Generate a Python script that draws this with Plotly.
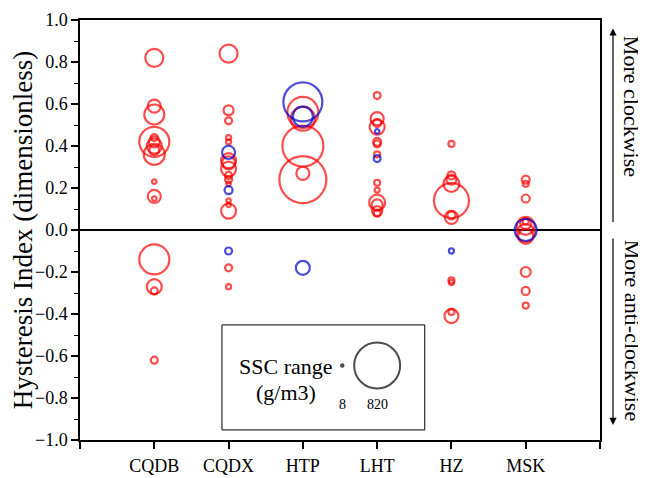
import numpy as np
import plotly.graph_objects as go

SITES = ["CQDB", "CQDX", "HTP", "LHT", "HZ", "MSK"]

# Red events
RED_SITE = (["CQDB"] * 16 + ["CQDX"] * 16 + ["HTP"] * 5 + ["LHT"] * 13 +
            ["HZ"] * 11 + ["MSK"] * 11)
RED_HI = [0.82, 0.59, 0.55, 0.42, 0.44, 0.42, 0.40, 0.38, 0.36, 0.23, 0.16, 0.15, -0.14, -0.27, -0.29, -0.62,
          0.84, 0.57, 0.52, 0.44, 0.42, 0.33, 0.32, 0.29, 0.26, 0.24, 0.22, 0.14, 0.12, 0.09, -0.18, -0.27,
          0.56, 0.53, 0.40, 0.24, 0.27,
          0.64, 0.53, 0.51, 0.49, 0.42, 0.41, 0.36, 0.225, 0.19, 0.13, 0.12, 0.09, 0.08,
          0.41, 0.26, 0.24, 0.22, 0.14, 0.07, 0.06, -0.24, -0.25, -0.39, -0.41,
          0.24, 0.22, 0.15, 0.04, 0.03, 0.02, -0.015, -0.03, -0.20, -0.29, -0.36]
RED_SSC = [126, 66, 155, 349, 19, 47, 87, 39, 171, 8, 66, 8, 349, 87, 19, 19,
           126, 39, 19, 10, 10, 87, 66, 87, 19, 19, 8, 8, 8, 87, 19, 10,
           372, 223, 651, 856, 66,
           19, 66, 25, 87, 25, 19, 14, 14, 10, 99, 47, 39, 19,
           14, 25, 39, 99, 475, 25, 66, 14, 10, 14, 76,
           25, 14, 25, 14, 47, 125, 125, 87, 39, 25, 14]

# Blue events
BLUE_SITE = ["CQDX", "CQDX", "CQDX", "HTP", "HTP", "HTP", "LHT", "LHT", "HZ", "MSK"]
BLUE_HI = [0.37, 0.19, -0.10, 0.61, 0.54, -0.18, 0.47, 0.34, -0.10, 0.0]
BLUE_SSC = [66, 25, 19, 589, 155, 76, 8, 19, 10, 188]

LEGEND_SSC = [8, 820]
LEGEND_LABELS = ["8", "820"]

SSC_MAX = 820
SIZE_MAX = 46


def sizes(v):
    return SIZE_MAX * np.sqrt(np.asarray(v, dtype=float) / SSC_MAX)


def xpos(site_list):
    return [SITES.index(s) + 1 for s in site_list]


FONT = "Liberation Serif"
RED = "#FF0000"
BLUE = "#0000CC"

fig = go.Figure()
fig.add_trace(go.Scatter(
    x=xpos(RED_SITE), y=RED_HI, mode="markers",
    marker=dict(symbol="circle-open", size=sizes(RED_SSC), color=RED,
                line=dict(width=2.2, color=RED)),
    showlegend=False, hoverinfo="skip"))
fig.add_trace(go.Scatter(
    x=xpos(BLUE_SITE), y=BLUE_HI, mode="markers",
    marker=dict(symbol="circle-open", size=sizes(BLUE_SSC), color=BLUE,
                line=dict(width=2.2, color=BLUE)),
    showlegend=False, hoverinfo="skip"))

# size legend markers
fig.add_trace(go.Scatter(
    x=[3.53, 4.0], y=[-0.645, -0.645], mode="markers",
    marker=dict(symbol=["circle", "circle-open"], size=sizes(LEGEND_SSC), color="black",
                line=dict(width=[0, 2], color="black")),
    showlegend=False, hoverinfo="skip"))

fig.update_layout(
    width=638, height=470,
    margin=dict(l=72, r=46, t=12, b=38, autoexpand=False),
    paper_bgcolor="white", plot_bgcolor="white",
    font=dict(family=FONT, size=17, color="black"),
    xaxis=dict(range=[0, 7], tickvals=list(range(0, 8)),
               ticktext=[""] + SITES + [""], automargin=False,
               showgrid=False, zeroline=False,
               showline=True, linecolor="black", linewidth=1.5, mirror=True,
               ticks="outside", ticklen=7, tickwidth=1.5, tickcolor="black",
               ticklabelstandoff=2, tickfont=dict(family=FONT, size=18)),
    yaxis=dict(range=[-1, 1], dtick=0.2, tick0=0, tickformat=".1f", automargin=False,
               showgrid=False, zeroline=True, zerolinecolor="black", zerolinewidth=1.5,
               showline=True, linecolor="black", linewidth=1.5, mirror=True,
               ticks="outside", ticklen=7, tickwidth=1.5, tickcolor="black",
               tickfont=dict(family=FONT, size=18),
               minor=dict(dtick=0.1, ticks="outside", ticklen=4, tickwidth=1.2, tickcolor="black"),
               title=dict(text="Hysteresis Index (dimensionless)", standoff=1,
                          font=dict(family=FONT, size=27))),
)

# legend box
fig.add_shape(type="rect", xref="paper", yref="paper",
              x0=0.273, x1=0.663, y0=0.024, y1=0.274,
              line=dict(color="black", width=1), fillcolor="rgba(0,0,0,0)")
fig.add_annotation(xref="paper", yref="paper", x=0.396, y=0.176, text="SSC range",
                   showarrow=False, xanchor="center", yanchor="middle",
                   font=dict(family=FONT, size=22))
fig.add_annotation(xref="paper", yref="paper", x=0.396, y=0.112, text="(g/m3)",
                   showarrow=False, xanchor="center", yanchor="middle",
                   font=dict(family=FONT, size=22))
for xv, lab in zip([3.53, 4.0], LEGEND_LABELS):
    fig.add_annotation(x=xv, y=-0.83, text=lab, showarrow=False,
                       xanchor="center", yanchor="middle",
                       font=dict(family=FONT, size=14))

# right-hand arrows and text
fig.add_annotation(xref="paper", yref="paper", x=1.025, y=0.98, ax=0, ay=195,
                   axref="pixel", ayref="pixel", text="", showarrow=True,
                   arrowhead=2, arrowsize=1.2, arrowwidth=1.2, arrowcolor="black")
fig.add_annotation(xref="paper", yref="paper", x=1.025, y=0.036, ax=0, ay=-188,
                   axref="pixel", ayref="pixel", text="", showarrow=True,
                   arrowhead=2, arrowsize=1.2, arrowwidth=1.2, arrowcolor="black")
fig.add_annotation(xref="paper", yref="paper", x=1.062, y=0.795, text="More clockwise",
                   textangle=90, showarrow=False, xanchor="center", yanchor="middle",
                   font=dict(family=FONT, size=22))
fig.add_annotation(xref="paper", yref="paper", x=1.062, y=0.262, text="More anti-clockwise",
                   textangle=90, showarrow=False, xanchor="center", yanchor="middle",
                   font=dict(family=FONT, size=22))

fig.write_html("out.html")
